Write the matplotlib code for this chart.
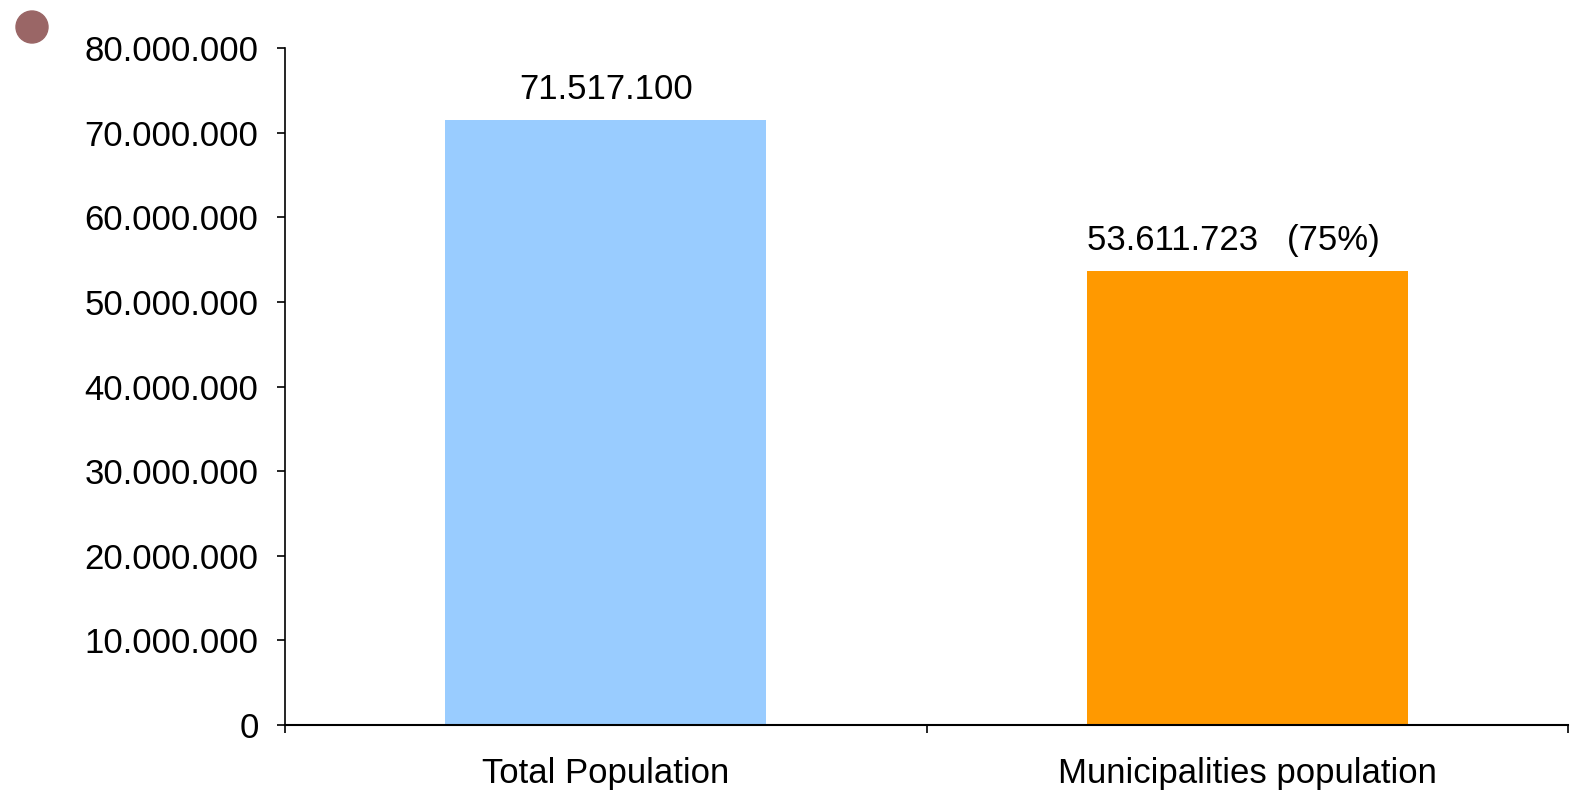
import matplotlib.pyplot as plt
from matplotlib.patches import Circle
from matplotlib.ticker import FuncFormatter

# Dados
categorias = ['Total Population', 'Municipalities population']
populacao = [71517100, 53611723]
rotulos = ['71.517.100', '53.611.723   (75%)']
cores = ['#99CCFF', '#FF9900']

plt.rcParams['font.family'] = ['Liberation Sans', 'DejaVu Sans']

fig = plt.figure(figsize=(15.81, 7.95), dpi=100)
ax = fig.add_axes([285 / 1581, 70 / 795, 1283 / 1581, 677 / 795])

x = range(len(categorias))
barras = ax.bar(x, populacao, width=0.5, color=cores)

desloc = [0, -10]  # pequeno ajuste horizontal dos rótulos
for b, txt, dx in zip(barras, rotulos, desloc):
    ax.annotate(txt, (b.get_x() + b.get_width() / 2, b.get_height()),
                xytext=(dx, 10), textcoords='offset points',
                ha='center', va='bottom', fontsize=25)

ax.set_xlim(-0.5, 1.5)
ax.set_ylim(0, 80000000)
ax.set_yticks(range(0, 80000001, 10000000))
ax.yaxis.set_major_formatter(FuncFormatter(lambda v, p: f'{int(v):,}'.replace(',', '.')))

ax.set_xticks(list(x))
ax.set_xticklabels(categorias)
ax.set_xticks([-0.5, 0.5, 1.5], minor=True)
ax.tick_params(axis='x', which='major', length=0, pad=23, labelsize=25)
ax.tick_params(axis='x', which='minor', length=6, width=1.2, direction='out')
ax.tick_params(axis='y', length=6, width=1.2, direction='out', pad=13, labelsize=25)

for s in ['top', 'right']:
    ax.spines[s].set_visible(False)
ax.spines['left'].set_linewidth(1.2)
ax.spines['bottom'].set_linewidth(1.5)

# marcador no canto
fig.patches.append(Circle((32, 795 - 27), 16, transform=None, color='#9A6666'))

plt.savefig('out.png', dpi=100)
